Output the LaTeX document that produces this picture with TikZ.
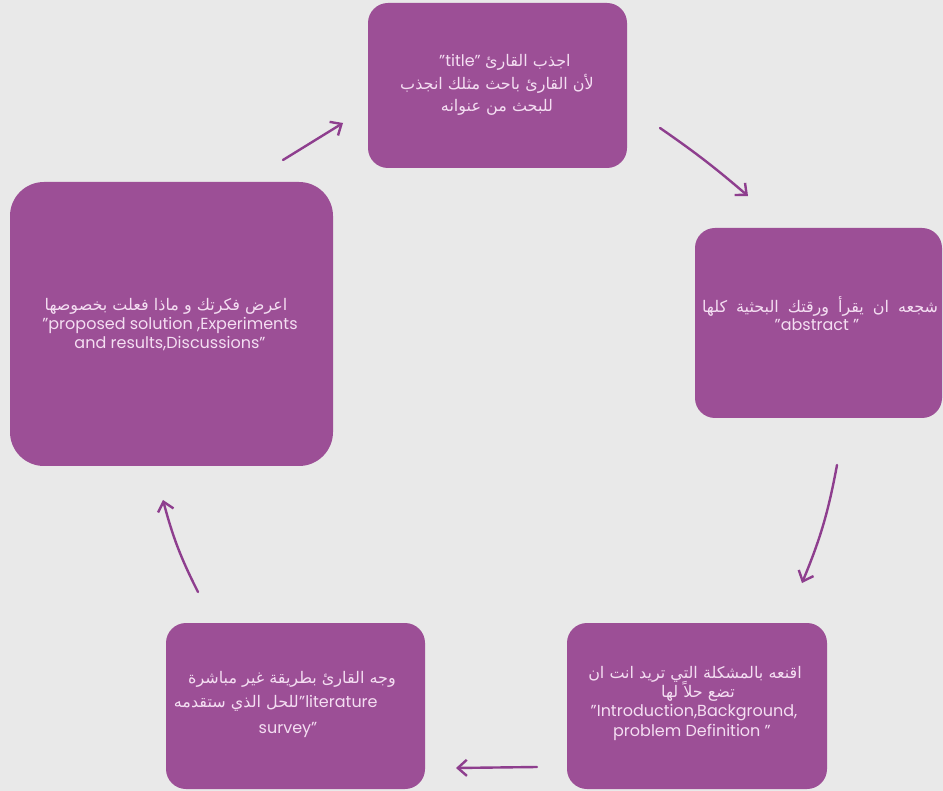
\documentclass[tikz,border=0pt]{standalone}
\usepackage{fontspec}
\setmainfont{Poppins}
\newfontfamily\arabicfont[Script=Arabic]{DejaVu Sans}
\TeXXeTstate=1
\usetikzlibrary{arrows.meta}
\definecolor{boxpurple}{RGB}{156,79,150}
\definecolor{bgray}{RGB}{233,233,233}
\definecolor{txtpink}{RGB}{244,222,242}
\definecolor{arrowpurple}{RGB}{142,62,142}
\begin{document}
\begin{tikzpicture}[x=1pt,y=-1pt,
  card/.style={fill=boxpurple, rounded corners=20pt, inner sep=0pt},
  lat/.style={text=txtpink, inner sep=0pt, font=\fontsize{16}{20}\selectfont},
  arb/.style={text=txtpink, inner sep=0pt, font=\fontsize{16}{20}\selectfont\arabicfont},
  flow/.style={draw=arrowpurple, line width=2.4pt, line cap=round,
    -{Straight Barb[length=9pt,width=16pt,line width=2.4pt]}}]
\fill[bgray] (0,0) rectangle (943,791);
\useasboundingbox (0,0) rectangle (943,791);

% boxes
\node[card, minimum width=259pt, minimum height=165pt] (b1) at (497.5,85.5) {};
\node[card, minimum width=247pt, minimum height=190pt] (b2) at (818.5,323) {};
\node[card, minimum width=260pt, minimum height=166pt] (b3) at (697,706) {};
\node[card, minimum width=259pt, minimum height=166pt] (b4) at (295.5,706) {};
\node[card, rounded corners=34pt, minimum width=323pt, minimum height=284pt] (b5) at (171.5,324) {};

% box 1 text
\node[lat, anchor=base east] (t1a) at (481,67) {"title"};
\node[arb, anchor=base west] (t1b) at (485,67) {\beginR اجذب القارئ\endR};
\node[arb, anchor=base] (t1c) at (497,90) {\beginR لأن القارئ باحث مثلك انجذب\endR};
\node[arb, anchor=base] (t1d) at (497,112) {\beginR للبحث من عنوانه\endR};

% box 2 text
\node[arb, anchor=base] (t2a) at (820,313) {\hbox to 236pt{\beginR شجعه ان يقرأ ورقتك البحثية كلها\endR}};
\node[lat, anchor=base] (t2b) at (817,331) {"abstract "};

% box 3 text
\node[arb, anchor=base] (t3a) at (695,678) {\beginR اقنعه بالمشكلة التي تريد انت ان\endR};
\node[arb, anchor=base] (t3b) at (698,697) {\beginR تضع حلاً لها\endR};
\node[lat, anchor=base] (t3c) at (694,716) {"Introduction,Background,};
\node[lat, anchor=base] (t3d) at (692,736) {problem Definition "};

% box 4 text
\node[arb, anchor=base] (t4a) at (292,683) {\beginR وجه القارئ بطريقة غير مباشرة\endR};
\node[arb, anchor=base east] (t4b) at (299,707) {\beginR للحل الذي ستقدمه\endR};
\node[lat, anchor=base west] (t4c) at (299,707) {"literature};
\node[lat, anchor=base] (t4d) at (288,733) {survey"};

% box 5 text
\node[arb, anchor=base] (t5a) at (166,311) {\beginR اعرض فكرتك و ماذا فعلت بخصوصها\endR};
\node[lat, anchor=base] (t5b) at (170,330) {"proposed solution ,Experiments};
\node[lat, anchor=base] (t5c) at (170,349) {and results,Discussions"};

% arrows
\coordinate (a1s) at (283,160); \coordinate (a1e) at (343,123);
\coordinate (a2s) at (660,128); \coordinate (a2e) at (748,196);
\coordinate (a3s) at (837,465); \coordinate (a3e) at (802,583);
\coordinate (a4s) at (537,767); \coordinate (a4e) at (456,768);
\coordinate (a5s) at (198,592); \coordinate (a5e) at (163,500);

\draw[flow] (a1s) -- (a1e);
\draw[flow] (a2s) to[bend left=3] (a2e);
\draw[flow] (a3s) to[bend left=6] (a3e);
\draw[flow] (a4s) -- (a4e);
\draw[flow] (a5s) to[bend left=6] (a5e);
\end{tikzpicture}
\end{document}
